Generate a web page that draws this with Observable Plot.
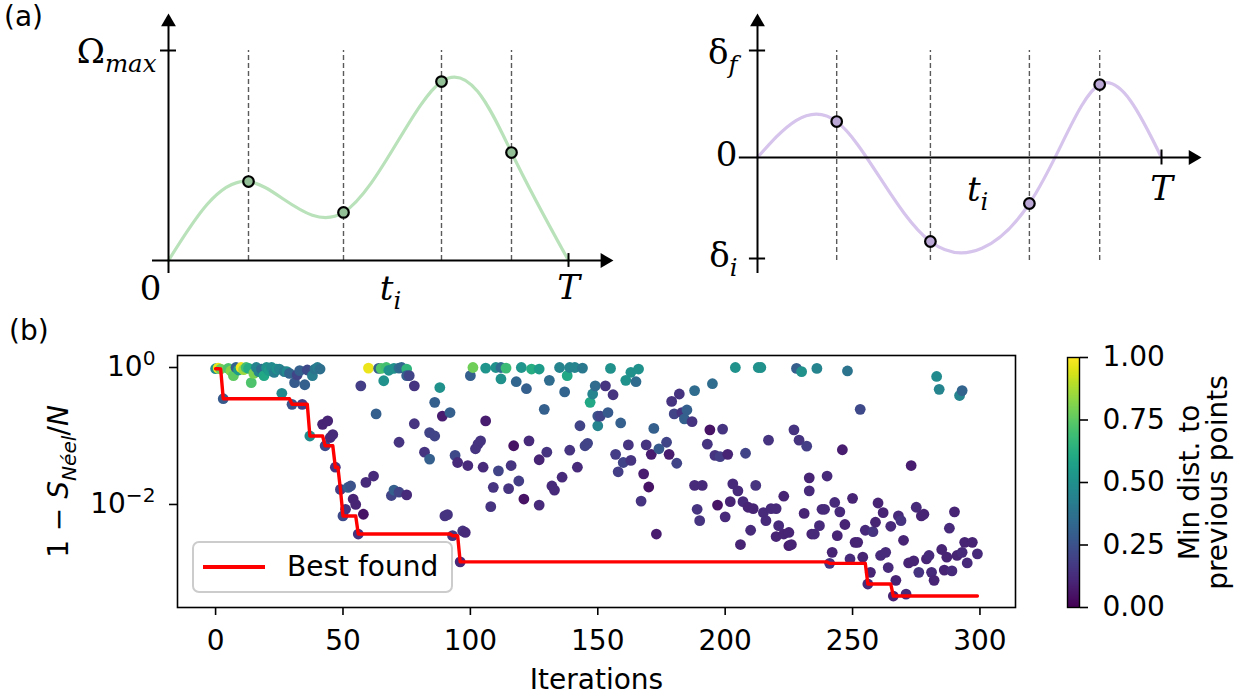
<!DOCTYPE html>
<html>
<head>
<meta charset="utf-8">
<script src="https://cdn.jsdelivr.net/npm/d3@7"></script>
<script src="https://cdn.jsdelivr.net/npm/@observablehq/plot@0.6"></script>
<style>
  body { margin: 0; background: #fff; }
  #fig { position: relative; width: 1253px; height: 697px; overflow: hidden; background: #fff; font-family: "DejaVu Sans", sans-serif; }
  #fig > svg { position: absolute; }
  .tag { position: absolute; font-size: 28px; line-height: 28px; color: #000; }
  .legend { position: absolute; left: 192px; top: 541px; width: 261px; height: 52px; box-sizing: border-box;
            border: 2px solid #cccccc; border-radius: 7px; background: rgba(255,255,255,0.8); }
  .legend .swatch { position: absolute; left: 9px; top: 22px; width: 62px; height: 4px; background: #ff0000; }
  .legend .label { position: absolute; left: 93px; top: 0; line-height: 48px; font-size: 28px; }
</style>
</head>
<body>
<div id="fig"></div>
<script>
// ---- Panel (a): control pulses sampled at the times t_i ----
const rabiTimes   = [0.2, 0.4375, 0.6825, 0.8575];
const rabiValues  = [0.376, 0.229, 0.852, 0.514];
const detuneTimes  = [0.196, 0.428, 0.673, 0.847];
const detuneValues = [0.336, -0.785, -0.43, 0.682];
const deltaInitial = -0.944;   // δ_i level relative to δ_f = 1

// ---- Panel (b): optimisation history ----
const iteration = [
  0,1,2,3,5,6,7,8,9,10,11,12,13,14,15,16,17,18,19,20,21,22,23,24,25,26,27,28,29,30,
  31,32,33,34,35,36,37,38,39,40,41,42,43,44,45,46,47,49,50,51,52,53,54,55,56,57,58,59,60,62,
  63,64,65,66,67,68,69,70,70,72,72,72,73,75,75,75,76,78,78,82,84,84,86,86,88,89,90,91,92,93,
  94,95,96,97,98,99,100,101,102,103,104,105,106,106,108,109,110,111,112,112,114,115,116,117,118,119,120,121,122,123,
  124,127,127,127,129,130,131,132,133,135,136,137,138,139,139,141,142,143,144,145,146,147,148,149,150,150,151,153,154,155,
  156,157,158,159,160,161,162,163,163,165,166,167,168,169,170,171,172,173,174,177,178,179,180,181,182,183,184,185,187,188,
  188,189,190,191,193,194,195,196,197,198,199,200,201,202,203,204,205,206,207,208,209,210,211,212,213,214,215,216,217,218,
  220,220,221,223,223,225,225,226,227,228,229,230,231,232,233,233,234,235,236,237,238,239,240,241,242,243,244,245,246,247,
  248,249,250,251,252,253,254,255,256,257,258,259,260,261,262,263,264,265,266,267,268,269,270,271,272,273,274,275,276,277,
  278,279,280,281,282,283,284,285,286,287,288,289,290,291,292,293,293,294,295,297,299
];
const residual = [
  0.96,0.98,0.95,0.35,0.97,0.89,0.76,1.00,0.92,1.00,0.93,1.00,0.97,0.60,0.82,1.00,0.87,0.95,0.76,1.00,0.90,1.00,0.85,0.95,0.95,0.42,0.87,0.87,0.82,0.29,
  0.60,0.78,0.90,0.29,0.56,0.92,0.10,0.76,0.95,1.00,0.95,0.148,0.072,0.166,0.095,0.105,0.035,0.0166,0.0068,0.0085,0.0178,0.0186,0.012,0.010,0.0037,0.54,0.0072,0.021,0.98,0.026,
  0.21,0.97,0.97,0.64,1.00,0.91,0.0135,0.97,0.0162,0.98,0.081,0.0151,1.00,0.95,0.76,0.0138,0.76,0.54,0.151,0.058,0.112,0.046,0.31,0.10,0.51,0.195,0.0068,0.0071,0.22,0.0035,
  0.052,0.041,0.00145,0.0041,0.0039,0.037,0.76,1.00,0.065,0.076,0.085,0.035,0.98,0.166,0.0093,0.0178,1.00,0.031,1.00,0.68,0.98,0.017,0.037,0.072,0.62,0.022,1.00,0.012,0.49,0.085,
  0.95,0.95,0.0098,0.045,0.245,0.058,0.65,0.0186,0.0162,1.00,0.025,0.44,0.76,1.00,0.062,1.00,0.035,0.141,0.98,0.072,0.078,0.31,0.41,0.54,0.141,0.195,0.195,0.54,0.22,0.97,
  0.40,0.054,0.030,0.155,0.041,0.65,0.074,0.85,0.044,0.62,0.95,0.0112,0.028,0.074,0.018,0.054,0.129,0.0037,0.065,0.081,0.054,0.32,0.21,0.040,0.41,0.22,0.178,0.24,0.162,0.46,
  0.019,0.0085,0.0058,0.019,0.076,0.123,0.58,0.052,0.0098,0.050,0.126,0.0066,0.054,0.011,0.020,1.00,0.0158,0.0026,0.011,0.056,0.0091,0.0042,0.0087,0.019,1.00,1.00,0.0076,0.0058,0.087,0.0087,
  0.0087,0.0034,0.0049,0.0037,0.0132,0.0039,0.0025,0.0026,0.123,0.97,0.087,0.87,0.0074,0.071,0.0245,0.0158,0.0037,0.0037,0.97,0.0049,0.0085,0.0085,0.026,0.00138,0.0020,0.0107,0.0035,0.0078,0.063,0.0051,
  0.89,0.0016,0.0123,0.0028,0.0028,0.245,0.0017,0.0042,0.00069,0.00102,0.0040,0.0055,0.0105,0.0018,0.0076,0.0020,0.0012,0.0048,0.00046,0.00078,0.0068,0.0058,0.0030,0.00049,0.0014,0.037,0.0015,0.0091,0.00102,0.0068,
  0.0072,0.0016,0.0018,0.00102,0.00078,0.74,0.48,0.0022,0.0011,0.0017,0.0045,0.00107,0.0078,0.0018,0.39,0.46,0.0020,0.0028,0.0014,0.0028,0.0019
];
const minDist = [
  0.50,0.97,0.78,0.28,0.72,0.82,0.75,0.30,0.55,0.98,0.85,0.70,0.62,0.72,0.80,0.45,0.45,0.35,0.60,0.50,0.55,0.48,0.42,0.50,0.45,0.47,0.40,0.47,0.32,0.25,
  0.28,0.20,0.30,0.18,0.30,0.22,0.48,0.42,0.38,0.42,0.36,0.10,0.22,0.10,0.12,0.12,0.15,0.18,0.22,0.15,0.30,0.25,0.10,0.10,0.15,0.18,0.05,0.12,0.97,0.12,
  0.30,0.30,0.72,0.50,0.70,0.50,0.20,0.50,0.30,0.35,0.15,0.20,0.33,0.65,0.30,0.12,0.20,0.15,0.15,0.15,0.20,0.30,0.30,0.20,0.50,0.08,0.15,0.15,0.30,0.15,
  0.22,0.12,0.12,0.15,0.12,0.12,0.30,0.78,0.15,0.15,0.15,0.12,0.52,0.08,0.15,0.15,0.50,0.20,0.35,0.50,0.68,0.15,0.15,0.05,0.33,0.18,0.52,0.05,0.30,0.12,
  0.62,0.55,0.12,0.10,0.30,0.15,0.35,0.12,0.12,0.45,0.12,0.32,0.60,0.45,0.15,0.45,0.12,0.20,0.40,0.20,0.20,0.60,0.45,0.35,0.45,0.25,0.20,0.15,0.28,0.50,
  0.15,0.18,0.18,0.30,0.20,0.50,0.15,0.50,0.15,0.35,0.50,0.15,0.08,0.15,0.05,0.08,0.30,0.08,0.28,0.20,0.08,0.15,0.20,0.20,0.15,0.15,0.30,0.30,0.15,0.35,
  0.12,0.15,0.15,0.12,0.15,0.05,0.35,0.15,0.05,0.18,0.15,0.12,0.10,0.10,0.12,0.50,0.12,0.10,0.12,0.20,0.10,0.12,0.10,0.15,0.50,0.50,0.12,0.12,0.15,0.12,
  0.12,0.10,0.12,0.10,0.10,0.10,0.08,0.10,0.15,0.30,0.15,0.50,0.10,0.18,0.10,0.12,0.10,0.12,0.45,0.12,0.12,0.12,0.12,0.15,0.10,0.12,0.10,0.12,0.08,0.10,
  0.38,0.12,0.10,0.10,0.10,0.22,0.10,0.12,0.12,0.10,0.15,0.10,0.10,0.12,0.10,0.12,0.12,0.12,0.10,0.10,0.12,0.15,0.10,0.12,0.10,0.08,0.10,0.12,0.15,0.10,
  0.10,0.10,0.12,0.12,0.10,0.48,0.45,0.10,0.10,0.10,0.12,0.12,0.10,0.10,0.45,0.32,0.12,0.10,0.12,0.10,0.12
];
const xTicks = [0, 50, 100, 150, 200, 250, 300];
const yTicks = [1, 0.01];
const colorTicks = [0, 0.25, 0.5, 0.75, 1];

// ---- derived tables ----
const rabiCurve = [{t: 0, v: 0}, ...rabiTimes.map((t, i) => ({t, v: rabiValues[i]})), {t: 1, v: 0}];
const rabiDots = rabiTimes.map((t, i) => ({t, v: rabiValues[i]}));
const detuneCurve = [{t: 0, v: 0}, ...detuneTimes.map((t, i) => ({t, v: detuneValues[i]})), {t: 1, v: 0}];
const detuneDots = detuneTimes.map((t, i) => ({t, v: detuneValues[i]}));

const samples = iteration.map((it, i) => ({iteration: it, residual: residual[i], dist: minDist[i]}));
// running best value after each iteration
const lastIter = d3.max(iteration);
const bestFound = [];
{
  let best = Infinity;
  for (let it = 0; it <= lastIter; ++it) {
    for (const s of samples) if (s.iteration === it && s.residual < best) best = s.residual;
    if (best < Infinity) bestFound.push({iteration: it, best});
  }
}

// Rich text: _{..} subscript (italic), ^{..} superscript, *{..} italic
function typeset(root) {
  root.querySelectorAll("text").forEach(node => {
    if (node.querySelector("tspan")) return;
    const src = node.textContent;
    if (!/[_^*]\{/.test(src)) return;
    const size = parseFloat(getComputedStyle(node).fontSize);
    node.textContent = "";
    let shift = 0;
    for (const m of src.matchAll(/([_^*])\{([^}]*)\}|([^_^*]+|[_^*])/g)) {
      const span = document.createElementNS("http://www.w3.org/2000/svg", "tspan");
      let target = 0;
      if (m[1] === "_") { target = 0.26 * size; span.setAttribute("font-size", 0.72 * size); span.setAttribute("font-style", "italic"); }
      else if (m[1] === "^") { target = -0.42 * size; span.setAttribute("font-size", 0.72 * size); }
      else if (m[1] === "*") { span.setAttribute("font-style", "italic"); }
      span.setAttribute("dy", target - shift);
      shift = target;
      span.textContent = m[1] ? m[2] : m[3];
      node.appendChild(span);
    }
  });
}

const fig = document.getElementById("fig");
const axisStroke = {stroke: "black", strokeWidth: 2};
const dash = {stroke: "#5a5a5a", strokeWidth: 1.4, strokeDasharray: "5,3"};

// Panel (a), left: Rabi frequency
const leftPanel = Plot.plot({
  width: 640, height: 310,
  marginLeft: 168, marginRight: 72, marginTop: 50, marginBottom: 50,
  x: {domain: [0, 1], axis: null},
  y: {domain: [0, 1], axis: null},
  style: {fontFamily: "DejaVu Serif", fontSize: "34px", background: "transparent", overflow: "visible"},
  marks: [
    Plot.ruleX(rabiTimes, {y1: 0, y2: 1, ...dash}),
    Plot.line(rabiCurve, {x: "t", y: "v", curve: "natural", stroke: "#b9e2ba", strokeWidth: 3.2}),
    Plot.ruleY([0], {x1: -0.04, x2: 1.09, ...axisStroke}),
    Plot.ruleX([0], {y1: -0.062, y2: 1.13, ...axisStroke}),
    Plot.ruleY([1], {x1: -0.02, x2: 0.02, ...axisStroke}),
    Plot.ruleX([1], {y1: -0.033, y2: 0.033, ...axisStroke}),
    Plot.dot([{t: 1.091, v: 0}], {x: "t", y: "v", symbol: "triangle", rotate: 90, r: 5.5, fill: "black"}),
    Plot.dot([{t: 0, v: 1.136}], {x: "t", y: "v", symbol: "triangle", r: 5.5, fill: "black"}),
    Plot.dot(rabiDots, {x: "t", y: "v", r: 5.3, fill: "#93bf97", stroke: "black", strokeWidth: 2.2}),
    Plot.text(["Ω_{max}"], {x: 0, y: 1, textAnchor: "end", dx: -12, dy: 2}),
    Plot.text(["0"], {x: 0, y: 0, dx: -18, dy: 29}),
    Plot.text(["*{t}_{i}"], {x: 0.555, y: 0, dy: 29}),
    Plot.text(["T"], {x: 1, y: 0, dy: 28, fontStyle: "italic"})
  ]
});

// Panel (a), right: detuning
const rightPanel = Plot.plot({
  width: 633, height: 310,
  marginLeft: 137, marginRight: 92, marginTop: 50, marginBottom: 46,
  x: {domain: [0, 1], axis: null},
  y: {domain: [-1, 1], axis: null},
  style: {fontFamily: "DejaVu Serif", fontSize: "34px", background: "transparent", overflow: "visible"},
  marks: [
    Plot.ruleX(detuneTimes, {y1: -0.963, y2: 1, ...dash}),
    Plot.line(detuneCurve, {x: "t", y: "v", curve: "natural", stroke: "#d6c4ec", strokeWidth: 3.2}),
    Plot.ruleY([0], {x1: -0.045, x2: 1.078, ...axisStroke}),
    Plot.ruleX([0], {y1: -1.084, y2: 1.26, ...axisStroke}),
    Plot.ruleY([1, deltaInitial], {x1: -0.02, x2: 0.02, ...axisStroke}),
    Plot.ruleX([1], {y1: -0.07, y2: 0.07, ...axisStroke}),
    Plot.dot([{t: 1.078, v: 0}], {x: "t", y: "v", symbol: "triangle", rotate: 90, r: 5.5, fill: "black"}),
    Plot.dot([{t: 0, v: 1.266}], {x: "t", y: "v", symbol: "triangle", r: 5.5, fill: "black"}),
    Plot.dot(detuneDots, {x: "t", y: "v", r: 5.3, fill: "#bba7d6", stroke: "black", strokeWidth: 2.2}),
    Plot.text(["δ_{f}"], {x: 0, y: 1, textAnchor: "end", dx: -20, dy: 3}),
    Plot.text(["0"], {x: 0, y: 0, textAnchor: "end", dx: -20, dy: -2}),
    Plot.text(["δ_{i}"], {x: 0, y: deltaInitial, textAnchor: "end", dx: -20, dy: -2}),
    Plot.text(["*{t}_{i}"], {x: 0.545, y: 0, dy: 33}),
    Plot.text(["T"], {x: 1, y: 0, dy: 32, fontStyle: "italic"})
  ]
});

// Panel (b): scatter of sampled points with running best
const mainPlot = Plot.plot({
  width: 1030, height: 367,
  marginLeft: 177, marginRight: 15, marginTop: 25, marginBottom: 90,
  x: {domain: [-14.95, 313.95]},
  y: {type: "log", domain: [3.13e-4, 1.497]},
  color: {type: "linear", scheme: "viridis", domain: [0, 1]},
  style: {fontFamily: "DejaVu Sans", fontSize: "28px", background: "transparent", overflow: "visible"},
  marks: [
    Plot.dot(samples, {x: "iteration", y: "residual", fill: "dist", r: 5.4}),
    Plot.line(bestFound, {x: "iteration", y: "best", stroke: "#ff0000", strokeWidth: 3.4}),
    Plot.frame({stroke: "black", strokeWidth: 1.6}),
    Plot.axisX({ticks: xTicks, tickFormat: d => String(d), tickSize: 8, tickPadding: 15, strokeWidth: 1.6, label: null}),
    Plot.axisY({ticks: yTicks, tickFormat: d => `10^{${String(Math.round(Math.log10(d))).replace("-", "−")}}`,
                tickSize: 8, tickPadding: 14, strokeWidth: 1.6, label: null}),
    Plot.text(["1 − *{S}_{Néel}/*{N}"], {frameAnchor: "left", textAnchor: "middle", lineAnchor: "middle", rotate: -90, dx: -118}),
    Plot.text(["Iterations"], {frameAnchor: "bottom", textAnchor: "middle", lineAnchor: "middle", dy: 73})
  ]
});

// Colour bar for the minimum distance
const rampStep = 0.004;
const rampStops = d3.range(0, 1, rampStep);
const colorBar = Plot.plot({
  width: 213, height: 300,
  marginLeft: 27, marginRight: 174, marginTop: 27, marginBottom: 23,
  x: {domain: [0, 1], axis: null},
  y: {domain: [0, 1]},
  color: {type: "linear", scheme: "viridis", domain: [0, 1]},
  style: {fontFamily: "DejaVu Sans", fontSize: "28px", background: "transparent", overflow: "visible"},
  marks: [
    Plot.rect(rampStops, {x1: 0, x2: 1, y1: d => d, y2: d => Math.min(1, d + rampStep * 1.5), fill: d => d + rampStep / 2, shapeRendering: "crispEdges"}),
    Plot.frame({stroke: "black", strokeWidth: 1.4}),
    Plot.axisY({anchor: "right", ticks: colorTicks, tickFormat: d3.format(".2f"), tickSize: 8, tickPadding: 15, strokeWidth: 1.6, label: null}),
    Plot.text(["Min dist. to\nprevious points"], {frameAnchor: "right", textAnchor: "middle", lineAnchor: "middle", rotate: -90, dx: 125, lineHeight: 1.0})
  ]
});

const place = (svg, left, top) => { svg.style.left = left + "px"; svg.style.top = top + "px"; fig.appendChild(svg); };
place(mainPlot, 0, 330);
place(colorBar, 1040, 330);
place(leftPanel, 0, 0);
place(rightPanel, 620, 0);

const tagA = document.createElement("div"); tagA.className = "tag"; tagA.style.left = "4px"; tagA.style.top = "3px"; tagA.textContent = "(a)";
const tagB = document.createElement("div"); tagB.className = "tag"; tagB.style.left = "9px"; tagB.style.top = "317px"; tagB.textContent = "(b)";
fig.appendChild(tagA); fig.appendChild(tagB);

const legend = document.createElement("div");
legend.className = "legend";
legend.innerHTML = '<div class="swatch"></div><div class="label">Best found</div>';
fig.appendChild(legend);

[leftPanel, rightPanel, mainPlot, colorBar].forEach(typeset);
</script>
</body>
</html>
